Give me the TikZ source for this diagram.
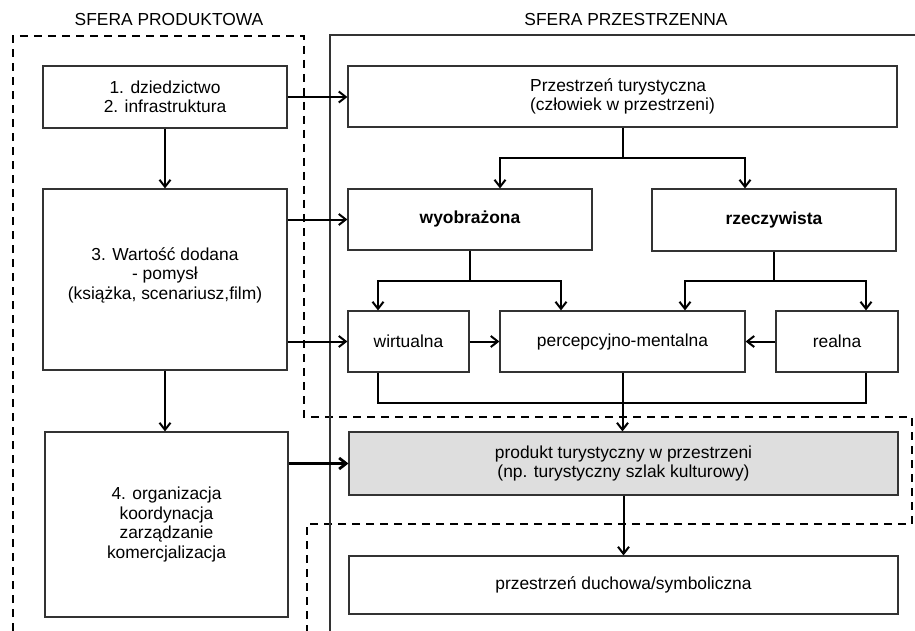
\documentclass[tikz,border=0pt]{standalone}
\usepackage{fontspec}
\setmainfont{Liberation Sans}
\usetikzlibrary{arrows.meta}
\begin{document}
\begin{tikzpicture}[x=0.5pt,y=-0.5pt]
        \tikzstyle{every node}=[font=\fontsize{8.7}{9.7}\selectfont, align=center, inner sep=0pt]
        \tikzstyle{box}=[draw=black!80, line width=0.6pt, fill=white, minimum height=30.5pt]
        \tikzstyle{link}=[line width=1pt, -{Straight Barb[length=3.5pt,width=5.5pt]}]
        \tikzstyle{frame}=[line width=1pt, dash pattern=on 4pt off 3pt]
        \useasboundingbox (0,0) rectangle (915,631);
        \draw[frame] (13,631) -- (13,36) -- (304,36) -- (304,417) -- (912,417) -- (912,524) -- (307,524) -- (307,631);
        \draw[line width=0.6pt, black!80] (330,631) -- (330,35) -- (915,35);
        \node (hprod) at (169,20) {SFERA PRODUKTOWA};
        \node (hspace) at (626,20) {SFERA PRZESTRZENNA};
        \node[box, minimum width=122pt, minimum height=31pt] (her) at (165,97) {1. dziedzictwo\\2. infrastruktura};
        \node[box, minimum width=122pt, minimum height=90.5pt] (idea) at (165,279.5) {3. Wartość dodana\\- pomysł\\(książka, scenariusz,film)\\[-3.5pt]};
        \node[box, minimum width=121.5pt, minimum height=92.5pt] (org) at (166.5,524.5) {4. organizacja\\koordynacja\\zarządzanie\\komercjalizacja};
        \node[box, minimum width=274.5pt, align=left] (space) at (622.5,96.5) {Przestrzeń turystyczna\\(człowiek w przestrzeni)};
        \node[box, minimum width=122pt] (imag) at (470,219.5) {\bfseries wyobrażona};
        \node[box, minimum width=122pt, minimum height=31pt] (real) at (774,220) {\bfseries rzeczywista};
        \node[box, minimum width=60.5pt] (virt) at (408.5,341.5) {wirtualna};
        \node[box, minimum width=122.5pt] (perc) at (622.5,341.5) {percepcyjno-mentalna};
        \node[box, minimum width=61pt] (realna) at (837,341.5) {realna};
        \node[box, fill=black!13, minimum width=274.5pt, minimum height=31.5pt] (prod) at (623.5,463.5) {produkt turystyczny w przestrzeni\\(np. turystyczny szlak kulturowy)};
        \node[box, minimum width=274.5pt, minimum height=29pt] (spirit) at (623.5,585) {przestrzeń duchowa/symboliczna};
        \draw[link] (her.east) -- (her.east -| space.west);
        \draw[link] (idea.east |- imag.west) -- (imag.west);
        \draw[link] (idea.east |- virt.west) -- (virt.west);
        \draw[link, line width=1.4pt] (org.east |- prod.west) -- (prod.west);
        \draw[link] (her.south) -- (idea.north);
        \draw[link] (idea.south) -- (idea.south |- org.north);
        \draw[link] (space.south) -- ++(0,30) -| ([xshift=15pt]imag.north);
        \draw[link] (space.south) -- ++(0,30) -| ([xshift=-14.5pt]real.north);
        \draw[link] (imag.south) -- ++(0,30) -| ([xshift=-15.25pt]virt.north);
        \draw[link] (imag.south) -- ++(0,30) -| ([xshift=-30.75pt]perc.north);
        \draw[link] (real.south) -- ++(0,29) -| ([xshift=31.25pt]perc.north);
        \draw[link] (real.south) -- ++(0,29) -| ([xshift=14.5pt]realna.north);
        \draw[link] (virt.east) -- (perc.west);
        \draw[link] (realna.west) -- (perc.east);
        \draw[line width=1pt] ([xshift=-15.25pt]virt.south) -- ++(0,30) -| ([xshift=14.5pt]realna.south);
        \draw[link] (perc.south) -- (perc.south |- prod.north);
        \draw[link] (prod.south) -- (spirit.north);
    \end{tikzpicture}
\end{document}
